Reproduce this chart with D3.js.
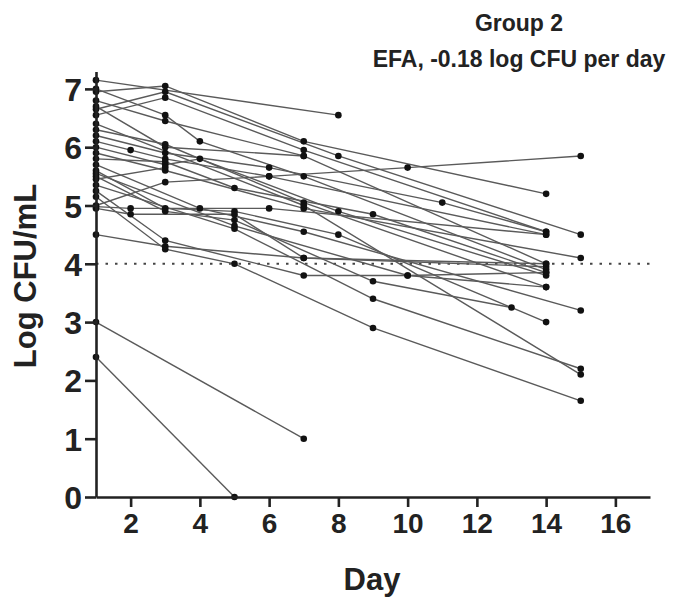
<!DOCTYPE html>
<html>
<head>
<meta charset="utf-8">
<script src="https://cdn.jsdelivr.net/npm/d3@7"></script>
<style>
  body { margin: 0; background: #fff; }
  text { font-family: "Liberation Sans", Arial, sans-serif; font-weight: bold; fill: #222; }
</style>
</head>
<body>
<div id="chart"></div>
<script>
const titleLines = ["Group 2", "EFA, -0.18 log CFU per day"];
const xTicks = [2, 4, 6, 8, 10, 12, 14, 16];
const yTicks = [0, 1, 2, 3, 4, 5, 6, 7];
const threshold = 4;

// one array of [day, log CFU/mL] per patient
const patients = [
  [[1, 7.15], [8, 6.55]],
  [[1, 6.95], [3, 7.05], [7, 6.1], [14, 5.2]],
  [[1, 6.65], [3, 6.95], [8, 5.85], [15, 4.5]],
  [[1, 6.55], [3, 6.85], [7, 5.95], [14, 4.55]],
  [[1, 7.0], [3, 6.55], [4, 6.1], [7, 5.5], [14, 3.9]],
  [[1, 6.8], [3, 6.45], [7, 5.85], [14, 4.0]],
  [[1, 5.0], [3, 5.4], [6, 5.5], [10, 5.65], [15, 5.85]],
  [[1, 6.3], [3, 6.05], [7, 5.05], [14, 3.6]],
  [[1, 6.2], [3, 5.9], [6, 5.65], [11, 5.05], [14, 4.55]],
  [[1, 6.1], [2, 5.95], [3, 5.8], [6, 5.5], [14, 4.5]],
  [[1, 6.0], [3, 5.7], [4, 5.8], [8, 4.9], [14, 3.8]],
  [[1, 5.9], [3, 5.6], [7, 4.95], [15, 4.1]],
  [[1, 5.8], [3, 5.75], [5, 5.3], [9, 4.85], [14, 3.85]],
  [[1, 5.7], [4, 4.95], [7, 4.55], [15, 3.2]],
  [[1, 5.6], [3, 4.95], [5, 4.9], [8, 4.5], [14, 3.0]],
  [[1, 5.5], [3, 4.9], [5, 4.75], [9, 3.7], [13, 3.25]],
  [[1, 5.35], [5, 4.6], [9, 3.4], [15, 2.2]],
  [[1, 5.25], [3, 4.4], [7, 3.8], [10, 3.8], [14, 3.6]],
  [[1, 5.15], [3, 4.25], [5, 4.0], [9, 2.9], [15, 1.65]],
  [[1, 4.98], [2, 4.95], [6, 4.95], [14, 4.5]],
  [[1, 4.95], [2, 4.85], [5, 4.85], [7, 4.1], [14, 3.95]],
  [[1, 4.5], [3, 4.3], [7, 4.1], [14, 4.0]],
  [[1, 3.0], [7, 1.0]],
  [[1, 2.4], [5, 0.0]],
  [[1, 6.4], [7, 5.0], [15, 2.1]],
  [[1, 5.55], [5, 4.65], [10, 3.8], [14, 3.85]],
  [[1, 6.7], [3, 6.0], [7, 5.85]],
  [[1, 5.45], [3, 5.65]]
];

const width = 677, height = 600;
const svg = d3.select("#chart").append("svg")
    .attr("width", width)
    .attr("height", height);

const x = d3.scaleLinear().domain([1, 17]).range([96, 650]);
const y = d3.scaleLinear().domain([0, 7.3]).range([497, 71.4]);

// threshold line
svg.append("line")
    .attr("x1", x(1)).attr("x2", x(17))
    .attr("y1", y(threshold)).attr("y2", y(threshold))
    .attr("stroke", "#444")
    .attr("stroke-width", 2)
    .attr("stroke-dasharray", "2.5,7");

const line = d3.line().x(d => x(d[0])).y(d => y(d[1]));

svg.append("g").selectAll("path")
    .data(patients)
    .join("path")
    .attr("d", line)
    .attr("fill", "none")
    .attr("stroke", "#5a5a5a")
    .attr("stroke-width", 1.4);

svg.append("g").selectAll("circle")
    .data(patients.flat())
    .join("circle")
    .attr("cx", d => x(d[0]))
    .attr("cy", d => y(d[1]))
    .attr("r", 3.3)
    .attr("fill", "#111");

// axes
const xAxis = svg.append("g")
    .attr("transform", `translate(0,${y(0)})`)
    .call(d3.axisBottom(x).tickValues(xTicks).tickSize(10).tickSizeOuter(0).tickPadding(6));
const yAxis = svg.append("g")
    .attr("transform", `translate(${x(1)},0)`)
    .call(d3.axisLeft(y).tickValues(yTicks).tickSize(11).tickSizeOuter(0).tickPadding(3));

[xAxis, yAxis].forEach(g => {
  g.select(".domain").attr("stroke", "#222").attr("stroke-width", 2.6);
  g.selectAll(".tick line").attr("stroke", "#222").attr("stroke-width", 2.6);
  g.selectAll(".tick text").attr("fill", "#222");
});
xAxis.selectAll(".tick text").style("font-size", "28px");
yAxis.selectAll(".tick text").style("font-size", "32px").attr("dy", "0.36em");

// labels
svg.append("text")
    .attr("x", 372).attr("y", 590)
    .attr("text-anchor", "middle")
    .style("font-size", "31px")
    .text("Day");

svg.append("text")
    .attr("transform", "translate(36,276) rotate(-90)")
    .attr("text-anchor", "middle")
    .style("font-size", "31px")
    .text("Log CFU/mL");

svg.append("g").selectAll("text")
    .data(titleLines)
    .join("text")
    .attr("x", 519)
    .attr("y", (d, i) => 31 + i * 36)
    .attr("text-anchor", "middle")
    .style("font-size", "23px")
    .text(d => d);
</script>
</body>
</html>
